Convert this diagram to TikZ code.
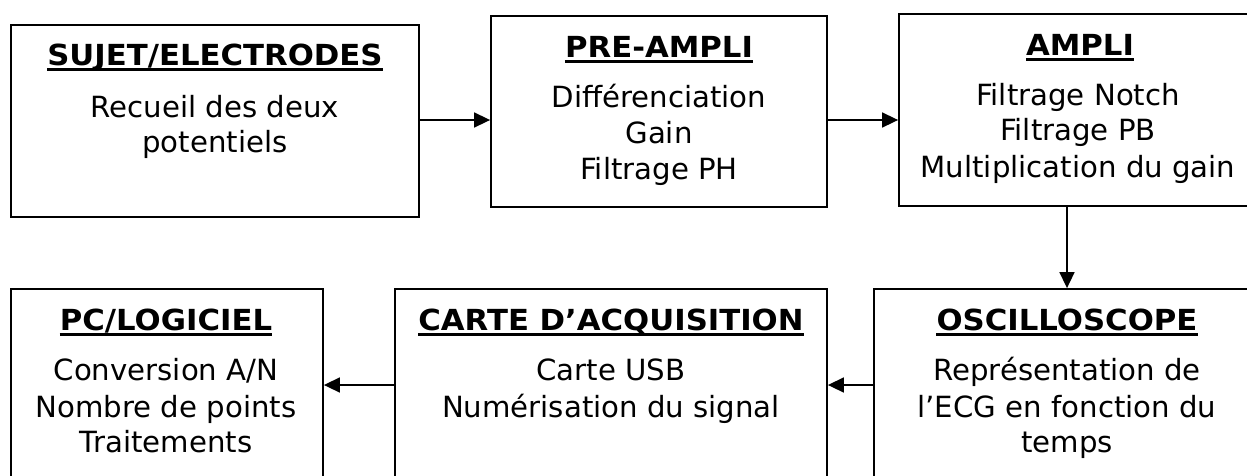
\documentclass[tikz,border=0pt]{standalone}
\usepackage{fontspec}
\setmainfont{DejaVu Sans}
\newfontfamily\ttlfont[FakeStretch=1.06]{DejaVu Sans}
\usetikzlibrary{arrows.meta}
\begin{document}
\begin{tikzpicture}[x=1pt,y=-1pt,
  blk/.style={draw,line width=1.8pt,inner sep=0},
  ttl/.style={inner sep=0,anchor=base,font=\ttlfont\fontsize{29}{34}\selectfont\bfseries},
  txt/.style={inner sep=0,anchor=base,font=\fontsize{29.2}{34}\selectfont},
  arr/.style={line width=1.6pt,-{Triangle[length=16pt,width=15pt]}},
  ulin/.style={line width=2.5pt}]
\useasboundingbox (0,0) rectangle (1247,475);
\clip (0,0) rectangle (1247,475);
% boxes
\node[blk,minimum width=408pt,minimum height=192pt] (b1) at (215,121) {};
\node[blk,minimum width=336pt,minimum height=191pt] (b2) at (659,111.5) {};
\node[blk,minimum width=358pt,minimum height=192pt] (b3) at (1078,110) {};
\node[blk,minimum width=312pt,minimum height=211pt] (b4) at (167,394.5) {};
\node[blk,minimum width=432pt,minimum height=211pt] (b5) at (611,394.5) {};
\node[blk,minimum width=386pt,minimum height=211pt] (b6) at (1067,394.5) {};
% titles
\node[ttl] (t1) at (215,65) {SUJET/ELECTRODES};
\node[ttl] (t2) at (659,57) {PRE-AMPLI};
\node[ttl] (t3) at (1080,55) {AMPLI};
\node[ttl] (t4) at (166,330) {PC/LOGICIEL};
\node[ttl] (t5) at (611,330) {CARTE D’ACQUISITION};
\node[ttl] (t6) at (1067,330) {OSCILLOSCOPE};
\foreach \t in {t1,t2,t3,t4,t5,t6}
  \draw[ulin] ([yshift=-4.5pt]\t.base west) -- ([yshift=-4.5pt]\t.base east);
% body text
\node[txt] (l11) at (215,117) {Recueil des deux};
\node[txt] (l12) at (215,152) {potentiels};
\node[txt] (l21) at (659,107) {Différenciation};
\node[txt] (l22) at (659,143) {Gain};
\node[txt] (l23) at (659,179) {Filtrage PH};
\node[txt] (l31) at (1078,105) {Filtrage Notch};
\node[txt] (l32) at (1078,140) {Filtrage PB};
\node[txt] (l33) at (1078,177) {Multiplication du gain};
\node[txt] (l41) at (166,380) {Conversion A/N};
\node[txt] (l42) at (166,417) {Nombre de points};
\node[txt] (l43) at (166,452) {Traitements};
\node[txt] (l51) at (611,380) {Carte USB};
\node[txt] (l52) at (611,417) {Numérisation du signal};
\node[txt] (l61) at (1067,380) {Représentation de};
\node[txt] (l62) at (1067,417) {l’ECG en fonction du};
\node[txt] (l63) at (1067,452) {temps};
% connectors
\coordinate (ry) at (0,120);
\coordinate (ly) at (0,385);
\draw[arr] (b1.east |- ry) -- (b2.west |- ry);
\draw[arr] (b2.east |- ry) -- (b3.west |- ry);
\draw[arr] (b6.north |- b3.south) -- (b6.north);
\draw[arr] (b6.west |- ly) -- (b5.east |- ly);
\draw[arr] (b5.west |- ly) -- (b4.east |- ly);
\end{tikzpicture}
\end{document}
